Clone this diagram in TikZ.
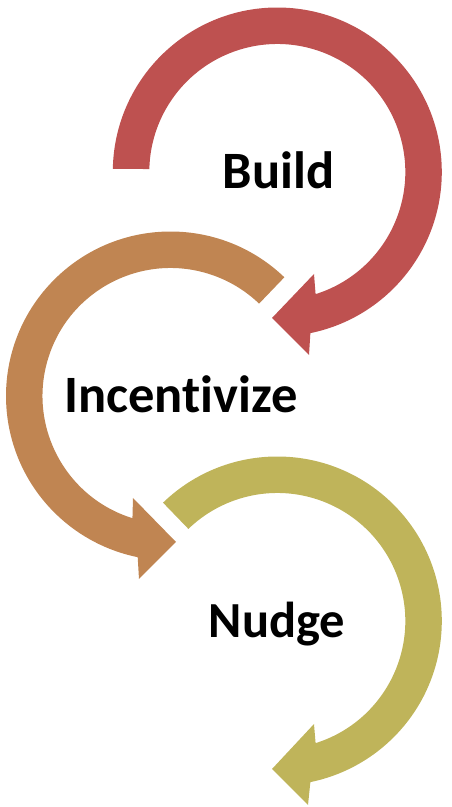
\documentclass[tikz,border=0pt]{standalone}
\usepackage{fontspec}
\usetikzlibrary{calc}
\setmainfont[Ligatures=NoCommon]{Carlito}
\definecolor{redarc}{HTML}{BE5150}
\definecolor{orangearc}{HTML}{C08552}
\definecolor{olivearc}{HTML}{BFB45A}
\tikzset{swoosh/.style={fill=#1,draw=none},
  label text/.style={font=\fontsize{52.5}{55}\selectfont\bfseries,text=black,inner sep=0pt,anchor=base}}
\begin{document}
\begin{tikzpicture}[x=1pt,y=1pt]
\useasboundingbox (0,0) rectangle (452,807);
% red
\fill[swoosh=redarc] (277.3,635) ++(178.95:164.5) arc[start angle=178.95,end angle=-78.4,radius=164.5]
  -- (309,452) -- (272,489) -- (314,533) -- ($(277.3,635)+(-72.6:128)$)
  arc[start angle=-72.6,end angle=178.66,radius=128] -- cycle;
% orange
\fill[swoosh=orangearc] (170.5,411) ++(46.2:164.5) arc[start angle=46.2,end angle=258.5,radius=164.5]
  -- (139,228) -- (176,265) -- (133,309) -- ($(170.5,411)+(252.7:128)$)
  arc[start angle=252.7,end angle=46.2,radius=128] -- cycle;
% olive
\fill[swoosh=olivearc] (277.3,186) ++(134:164.5) arc[start angle=134,end angle=-78.4,radius=164.5]
  -- (308,2) -- (272,38) -- (314,83) -- ($(277.3,186)+(-72.6:128)$)
  arc[start angle=-72.6,end angle=134,radius=128] -- cycle;
\node[label text] (build) at (278.5,618.8) {Build};
\node[label text] (incentivize) at (181,394.5) {Incentivize};
\node[label text,font=\fontsize{50.5}{53}\selectfont\bfseries] (nudge) at (277,169) {Nudge};
\end{tikzpicture}
\end{document}
